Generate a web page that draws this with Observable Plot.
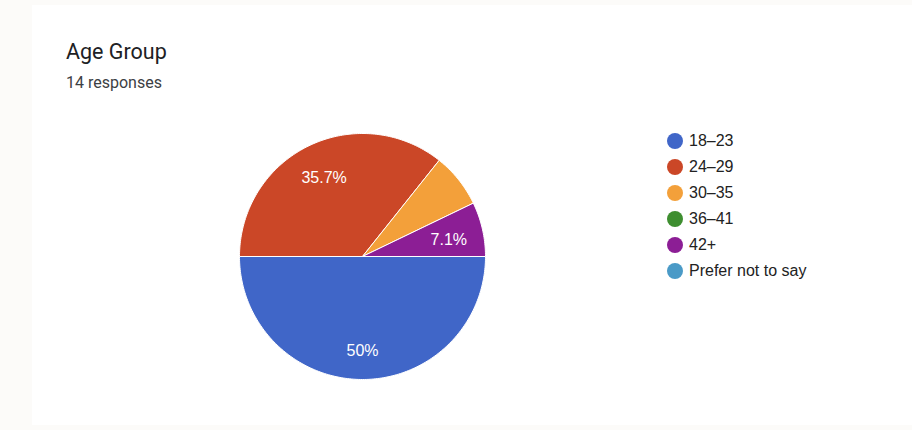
<!DOCTYPE html>
<html>
<head>
<meta charset="utf-8">
<script src="https://cdn.jsdelivr.net/npm/d3@7"></script>
<script src="https://cdn.jsdelivr.net/npm/@observablehq/plot@0.6"></script>
<style>
  html, body { margin: 0; padding: 0; }
  body { width: 912px; height: 430px; background: #fcfbf9; position: relative; overflow: hidden; }
  #card { position: absolute; left: 32px; top: 5px; right: 0; bottom: 5px; background: #ffffff; }
  #title { position: absolute; left: 66px; top: 39px; font-family: Roboto, "Liberation Sans", sans-serif; font-size: 21.5px; color: #202124; }
  #subtitle { position: absolute; left: 66px; top: 73px; font-family: Roboto, "Liberation Sans", sans-serif; font-size: 16px; color: #3c4043; }
  #chart { position: absolute; left: 237px; top: 131px; }
  #legend { position: absolute; left: 667px; top: 132px; font-family: "Liberation Sans", Arial, sans-serif; font-size: 16px; color: #222; }
  .item { height: 26px; display: flex; align-items: flex-start; }
  .sw { width: 16px; height: 16px; border-radius: 50%; margin-right: 6px; margin-top: 1px; }
  .lab { line-height: 18px; }
</style>
</head>
<body>
<div id="card"></div>
<div id="title">Age Group</div>
<div id="subtitle">14 responses</div>
<div id="chart"></div>
<div id="legend"></div>
<script>
const categories = ["18–23", "24–29", "30–35", "36–41", "42+", "Prefer not to say"];
const counts = [7, 5, 1, 0, 1, 0];
const colors = ["#4066c8", "#cb4727", "#f3a03a", "#3e8e30", "#8c1e95", "#4a9ac7"];
const labelled = ["18–23", "24–29", "42+"];
const percentLabels = ["50%", "35.7%", "7.1%", "0%", "7.1%", "0%"];

const total = d3.sum(counts);
const startAngle = Math.PI / 2; // 3 o'clock, clockwise
const points = [];
const labels = [];
let a0 = startAngle;
categories.forEach((cat, i) => {
  const span = counts[i] / total * 2 * Math.PI;
  const a1 = a0 + span;
  if (counts[i] > 0) {
    points.push({cat, x: 0, y: 0});
    const steps = Math.max(2, Math.ceil(span / (Math.PI / 180)));
    for (let k = 0; k <= steps; k++) {
      const a = a0 + span * k / steps;
      points.push({cat, x: Math.sin(a), y: Math.cos(a)});
    }
    points.push({cat, x: 0, y: 0});
    if (labelled.includes(cat)) {
      const m = (a0 + a1) / 2;
      labels.push({cat, x: 0.72 * Math.sin(m), y: 0.74 * Math.cos(m) - 0.03, text: percentLabels[i]});
    }
  }
  a0 = a1;
});

const chart = Plot.plot({
  width: 250,
  height: 250,
  margin: 2,
  x: {domain: [-1, 1], axis: null},
  y: {domain: [-1, 1], axis: null},
  color: {domain: categories, range: colors},
  style: {background: "transparent"},
  marks: [
    Plot.line(points, {x: "x", y: "y", z: "cat", fill: "cat", stroke: "white", strokeWidth: 1, curve: "linear"}),
    Plot.text(labels, {x: "x", y: "y", text: "text", fill: "white", fontSize: 16, fontFamily: "Liberation Sans, Arial, sans-serif"})
  ]
});
document.getElementById("chart").appendChild(chart);

const legend = d3.select("#legend");
categories.forEach((cat, i) => {
  const it = legend.append("div").attr("class", "item");
  it.append("div").attr("class", "sw").style("background", colors[i]);
  it.append("div").attr("class", "lab").text(cat);
});
</script>
</body>
</html>
